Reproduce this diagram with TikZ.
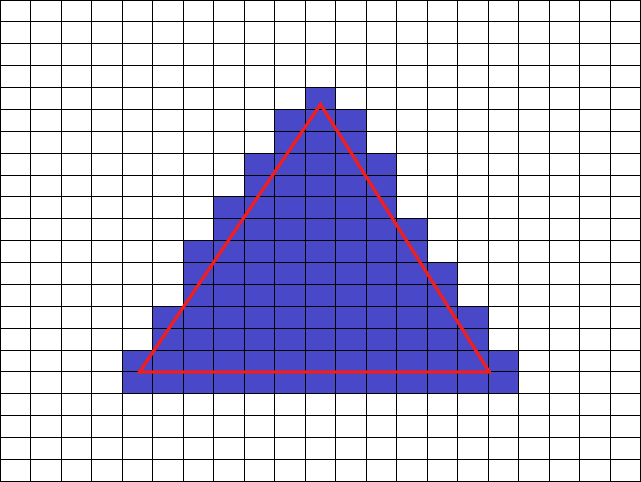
\documentclass[tikz,border=0pt]{standalone}
\usepackage{xcolor}
\usepackage{tikz}
\definecolor{CellBlue}{HTML}{4848C8}
\definecolor{EdgeRed}{HTML}{F01E1E}

\begin{document}
\begin{tikzpicture}[x=0.5cm,y=-0.3584cm,
cell/.style={fill=CellBlue},
gridline/.style={draw=black,line width=0.5pt},
tri/.style={draw=EdgeRed,line width=1.5pt,line join=miter}]
\useasboundingbox (0,0) rectangle (21,22);
% covered cells: row / first column / last column
\foreach \r/\a/\b in {4/10/10,5/9/11,6/9/11,7/8/12,8/8/12,9/7/12,10/7/13,
  11/6/13,12/6/14,13/6/14,14/5/15,15/5/15,16/4/16,17/4/16}
  \fill[cell] (\a,\r) rectangle (\b+1,\r+1);
\foreach \c in {0,...,21} \draw[gridline] (\c,0)--(\c,22);
\foreach \r in {0,...,22} \draw[gridline] (0,\r)--(21,\r);
\coordinate (apex) at (10.5,4.77);
\coordinate (left) at (4.57,17);
\coordinate (right) at (16.03,17);
\draw[tri] (apex)--(left)--(right)--cycle;
\end{tikzpicture}
\end{document}
